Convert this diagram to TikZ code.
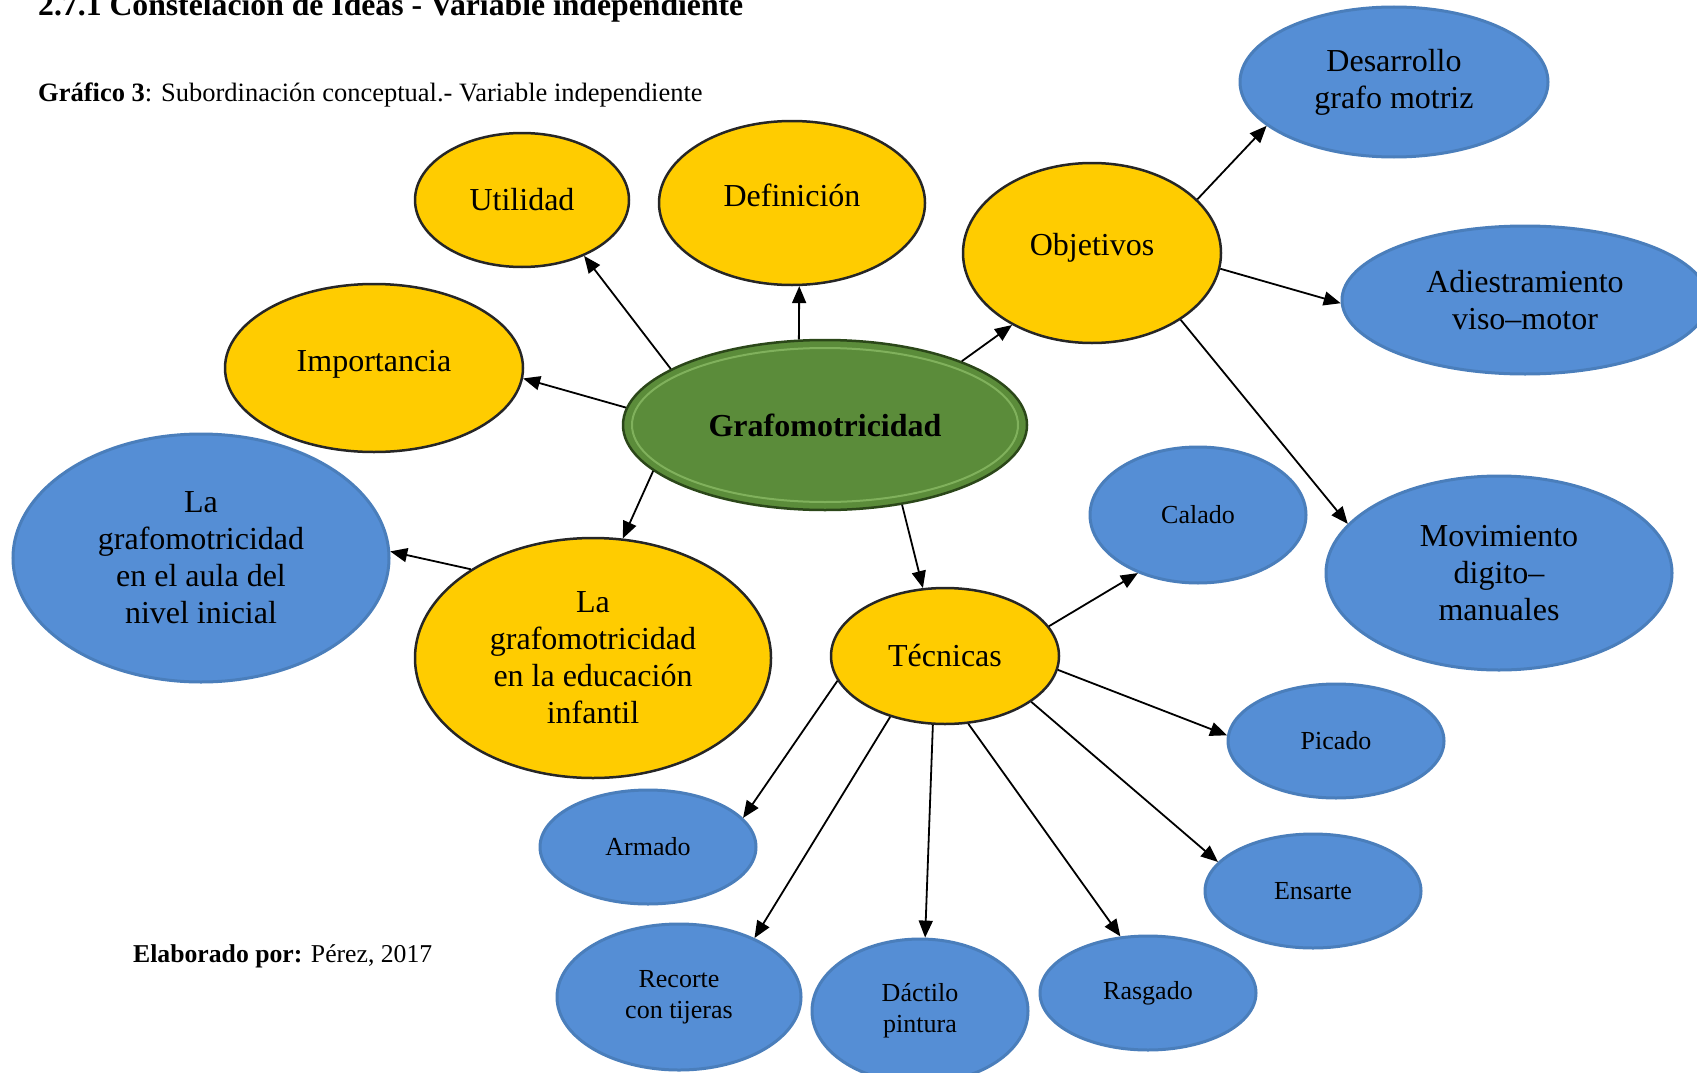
\documentclass[tikz,border=0pt]{standalone}
\usepackage{fontspec}
\setmainfont{Liberation Serif}
\usetikzlibrary{shapes.geometric,arrows.meta}
\definecolor{nodeyellow}{HTML}{FFCC00}
\definecolor{nodeblue}{HTML}{558ED5}
\definecolor{blueedge}{HTML}{4A7EBB}
\definecolor{nodegreen}{HTML}{5B8C3A}
\definecolor{greenedge}{HTML}{2B4719}
\definecolor{greenring}{HTML}{80B15C}

\begin{document}
\begin{tikzpicture} [x=1pt, y=-1pt,
                    yellow_node/.style={ellipse, draw=black!85, line width=2.5pt, fill=nodeyellow, inner sep=0pt, align=center, font=\fontsize{32}{37}\selectfont},
                    blue_node/.style={ellipse, draw=blueedge, line width=3pt, fill=nodeblue, inner sep=0pt, align=center, font=\fontsize{32}{37}\selectfont},
                    small_node/.style={blue_node, minimum width=216pt, minimum height=114pt, font=\fontsize{26}{31}\selectfont},
                    text_node/.style={anchor=base west, inner sep=0pt},
                    edge_style/.style={draw=black, line width=1.8pt, -{Triangle[length=17pt,width=14pt]}}]
                    \useasboundingbox (0,0) rectangle (1697,1073);
                    % heading
                    \node[text_node, font=\bfseries\fontsize{31.7}{36}\selectfont] (title) at (38,16) {2.7.1 Constelación de Ideas - Variable independiente};
                    \node[text_node, font=\fontsize{26.5}{30}\selectfont] (caption) at (38,101) {\textbf{Gráfico 3}: Subordinación conceptual.- Variable independiente};
                    \node[text_node, font=\fontsize{25.7}{30}\selectfont] (author) at (133,962) {\textbf{Elaborado por:} Pérez, 2017};
                    % centre
                    \node[ellipse, draw=greenedge, line width=2.5pt, fill=nodegreen, minimum width=404pt, minimum height=170pt, font=\bfseries\fontsize{32}{37}\selectfont] (grafo) at (825,425) {Grafomotricidad};
                    \draw[greenring, line width=2pt] (grafo.center) ellipse [x radius=193, y radius=77];
                    % yellow nodes
                    \node[yellow_node, minimum width=214pt, minimum height=134pt] (util) at (522,200) {Utilidad};
                    \node[yellow_node, minimum width=266pt, minimum height=164pt, text depth=16pt] (defin) at (792,203) {Definición};
                    \node[yellow_node, minimum width=258pt, minimum height=180pt, text depth=17pt] (objet) at (1092,253) {Objetivos};
                    \node[yellow_node, minimum width=298pt, minimum height=168pt, text depth=15pt] (impor) at (374,368) {Importancia};
                    \node[yellow_node, minimum width=356pt, minimum height=240pt] (educ) at (593,658) {La\\grafomotricidad\\en la educación\\infantil};
                    \node[yellow_node, minimum width=228pt, minimum height=136pt] (tecn) at (945,656) {Técnicas};
                    % blue nodes
                    \node[blue_node, minimum width=376pt, minimum height=248pt] (aula) at (201,558) {La\\grafomotricidad\\en el aula del\\nivel inicial};
                    \node[blue_node, minimum width=308pt, minimum height=150pt] (desar) at (1394,82) {Desarrollo\\grafo motriz};
                    \node[blue_node, minimum width=366pt, minimum height=148pt] (adies) at (1525,300) {Adiestramiento\\viso–motor};
                    \node[blue_node, minimum width=346pt, minimum height=194pt] (movim) at (1499,573) {Movimiento\\digito–\\manuales};
                    \node[small_node, minimum height=136pt] (calado) at (1198,515) {Calado};
                    \node[small_node] (picado) at (1336,741) {Picado};
                    \node[small_node] (ensarte) at (1313,891) {Ensarte};
                    \node[small_node] (rasgado) at (1148,993) {Rasgado};
                    \node[small_node, minimum height=144pt] (dactilo) at (920,1011) {Dáctilo\\pintura};
                    \node[small_node, minimum width=244pt, minimum height=146pt] (recorte) at (679,997) {Recorte\\con tijeras};
                    \node[small_node] (armado) at (648,847) {Armado};
                    % arrows
                    \draw[edge_style] (grafo.160) -- (util.-42);
                    \draw[edge_style] (grafo.107) -- (defin.-85);
                    \draw[edge_style] (grafo.25) -- (objet.-138);
                    \draw[edge_style] (grafo.175) -- (impor.-4);
                    \draw[edge_style] (grafo.-165) -- (educ.76);
                    \draw[edge_style] (grafo.-46) -- (tecn.108);
                    \draw[edge_style] (educ.144) -- (aula.2);
                    \draw[edge_style] (objet.27) -- (desar.-161);
                    \draw[edge_style] (objet.-7) -- (adies.-179);
                    \draw[edge_style] (objet.-37) -- (movim.162);
                    \draw[edge_style] (tecn.16) -- (calado.-136);
                    \draw[edge_style] (tecn.-7) -- (picado.177);
                    \draw[edge_style] (tecn.-28) -- (ensarte.163);
                    \draw[edge_style] (tecn.-71) -- (rasgado.116);
                    \draw[edge_style] (tecn.-100) -- (dactilo.86);
                    \draw[edge_style] (tecn.-132) -- (recorte.38);
                    \draw[edge_style] (tecn.-167) -- (armado.17);
                \end{tikzpicture}
\end{document}
